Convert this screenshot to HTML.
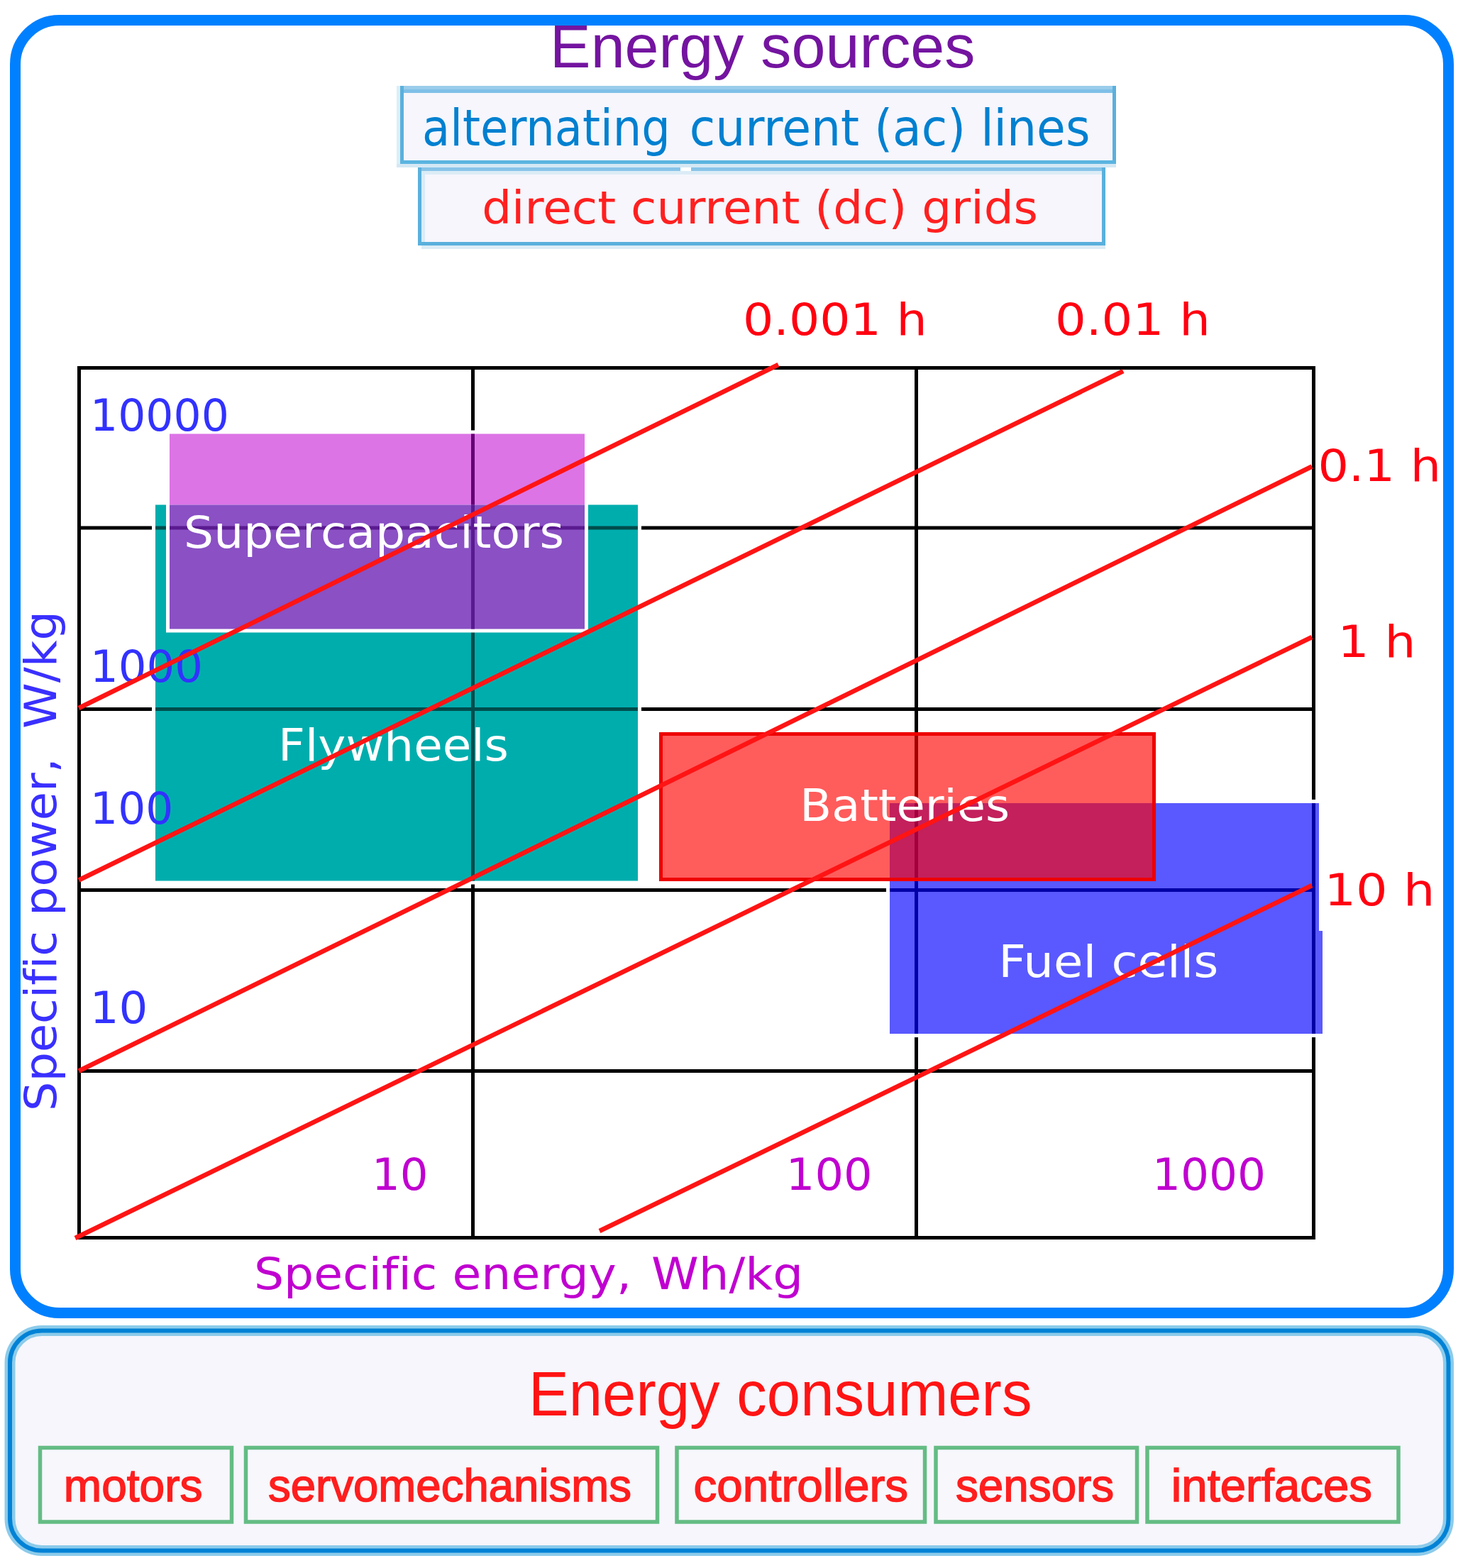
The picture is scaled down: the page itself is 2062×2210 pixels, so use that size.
<!DOCTYPE html>
<html><head><meta charset="utf-8"><title>Energy sources and consumers</title>
<style>
html,body{margin:0;padding:0;background:#fff;}
body{width:2062px;height:2210px;overflow:hidden;}
svg{display:block;}
</style></head><body>
<svg width="2062" height="2210" viewBox="0 0 2062 2210">
<rect x="0" y="0" width="2062" height="2210" fill="#fff"/>
<rect x="21.5" y="28.5" width="2020" height="1822" rx="62" ry="62" fill="#fff" stroke="#0080ff" stroke-width="15"/>
<g shape-rendering="crispEdges">
<rect x="569" y="131" width="999" height="95" fill="#f6f6fc"/>
<rect x="559" y="121" width="5" height="115" fill="#dceef8"/>
<rect x="564" y="121" width="1009" height="5" fill="#9acdeb"/>
<rect x="564" y="126" width="1009" height="5" fill="#7fc0e7"/>
<rect x="564" y="121" width="5" height="110" fill="#5ab0dc"/>
<rect x="1568" y="121" width="5" height="110" fill="#5ab0dc"/>
<rect x="564" y="226" width="1009" height="5" fill="#5ab4e0"/>
<rect x="559" y="231" width="1014" height="5" fill="#d4e8f4"/>
<rect x="594" y="241" width="959" height="100" fill="#f6f6fc"/>
<rect x="589" y="236" width="969" height="5" fill="#88c4e8"/>
<rect x="959" y="236" width="15" height="5" fill="#ffffff"/>
<rect x="594" y="241" width="959" height="5" fill="#dcecf6"/>
<rect x="594" y="241" width="5" height="100" fill="#d8ecf8"/>
<rect x="589" y="236" width="5" height="110" fill="#5ab0dc"/>
<rect x="1553" y="236" width="5" height="110" fill="#5ab0dc"/>
<rect x="589" y="341" width="969" height="5" fill="#5ab0dc"/>
<rect x="594" y="346" width="964" height="5" fill="#dcecf6"/>
</g>
<g stroke="#000" stroke-width="5" fill="none">
<rect x="111.5" y="518.5" width="1740" height="1226"/>
<line x1="666.5" y1="518.5" x2="666.5" y2="1744.5"/>
<line x1="1291.5" y1="518.5" x2="1291.5" y2="1744.5"/>
<line x1="111.5" y1="744" x2="1851.5" y2="744"/>
<line x1="111.5" y1="999.5" x2="1851.5" y2="999.5"/>
<line x1="111.5" y1="1254.5" x2="1851.5" y2="1254.5"/>
<line x1="111.5" y1="1509.5" x2="1851.5" y2="1509.5"/>
</g>
<rect x="214" y="706.5" width="690" height="540" fill="#fff"/>
<rect x="219" y="711.5" width="680" height="530" fill="#00adad"/>
<g stroke="#004c4c" stroke-width="5">
<line x1="219" y1="744" x2="899" y2="744"/>
<line x1="219" y1="999.5" x2="899" y2="999.5"/>
<line x1="666.5" y1="711.5" x2="666.5" y2="1241.5"/>
</g>
<rect x="234" y="606.5" width="595" height="285" fill="#fff"/>
<rect x="239" y="611.5" width="585" height="100" fill="#dc74e6"/>
<rect x="239" y="711.5" width="585" height="175" fill="#8a50c4"/>
<g stroke-width="5">
<line x1="666.5" y1="611.5" x2="666.5" y2="711.5" stroke="#640073"/>
<line x1="666.5" y1="711.5" x2="666.5" y2="886.5" stroke="#5a1a90"/>
<line x1="239" y1="744" x2="824" y2="744" stroke="#5a1a90"/>
</g>
<path d="M1249 1127 H1864 V1462 H1249 Z" fill="#fff"/>
<g stroke="#000" stroke-width="5">
<line x1="1851.5" y1="1132" x2="1851.5" y2="1457"/>
<line x1="1291.5" y1="1132" x2="1291.5" y2="1457"/>
<line x1="1254" y1="1254.5" x2="1854" y2="1254.5"/>
</g>
<path d="M1254 1132 H1859 V1312 H1864 V1457 H1254 Z" fill="rgba(0,0,255,0.65)"/>
<rect x="931.5" y="1034.5" width="695" height="205" fill="rgba(255,0,0,0.64)" stroke="#ee0000" stroke-width="5"/>

<rect x="14" y="1875.5" width="2027.5" height="310" rx="45" ry="45" fill="#f6f6fc" stroke="#8ccbea" stroke-width="15"/>
<rect x="14" y="1875.5" width="2027.5" height="310" rx="45" ry="45" fill="none" stroke="#0082d6" stroke-width="6"/>
<g fill="#f7f7fc" stroke="#64bc84" stroke-width="5.5">
<rect x="56.5" y="2040.5" width="270" height="104.5"/>
<rect x="346.5" y="2040.5" width="580" height="104.5"/>
<rect x="954" y="2040.5" width="349.5" height="104.5"/>
<rect x="1319" y="2040.5" width="283.5" height="104.5"/>
<rect x="1617" y="2040.5" width="354" height="104.5"/>
</g>
<text x="775.1" y="95.2" font-size="85.82" fill="#7414a0" textLength="599.3" lengthAdjust="spacingAndGlyphs" style='font-family:"Liberation Sans","DejaVu Sans",sans-serif;white-space:pre;font-variant-ligatures:none;font-kerning:normal'>Energy sources</text>
<text x="595.1" y="205.0" font-size="70.55" fill="#0080d0" textLength="349.6" lengthAdjust="spacingAndGlyphs" style='font-family:"DejaVu Sans","Liberation Sans",sans-serif;white-space:pre;font-variant-ligatures:none;font-kerning:normal'>alternating</text>
<text x="971.7" y="205.0" font-size="70.55" fill="#0080d0" textLength="564.8" lengthAdjust="spacingAndGlyphs" style='font-family:"DejaVu Sans","Liberation Sans",sans-serif;white-space:pre;font-variant-ligatures:none;font-kerning:normal'>current (ac) lines</text>
<text x="679.2" y="315.4" font-size="63.71" fill="#ff2020" textLength="783.8" lengthAdjust="spacingAndGlyphs" style='font-family:"DejaVu Sans","Liberation Sans",sans-serif;white-space:pre;font-variant-ligatures:none;font-kerning:normal'>direct current (dc) grids</text>
<text x="1046.9" y="471.6" font-size="62.50" fill="#ff0010" textLength="259.9" lengthAdjust="spacingAndGlyphs" style='font-family:"DejaVu Sans","Liberation Sans",sans-serif;white-space:pre;font-variant-ligatures:none;font-kerning:normal'>0.001 h</text>
<text x="1486.9" y="471.6" font-size="62.50" fill="#ff0010" textLength="218.9" lengthAdjust="spacingAndGlyphs" style='font-family:"DejaVu Sans","Liberation Sans",sans-serif;white-space:pre;font-variant-ligatures:none;font-kerning:normal'>0.01 h</text>
<text x="1857.4" y="677.7" font-size="62.50" fill="#ff0010" textLength="173.7" lengthAdjust="spacingAndGlyphs" style='font-family:"DejaVu Sans","Liberation Sans",sans-serif;white-space:pre;font-variant-ligatures:none;font-kerning:normal'>0.1 h</text>
<text x="1885.4" y="925.6" font-size="62.50" fill="#ff0010" textLength="110.1" lengthAdjust="spacingAndGlyphs" style='font-family:"DejaVu Sans","Liberation Sans",sans-serif;white-space:pre;font-variant-ligatures:none;font-kerning:normal'>1 h</text>
<text x="1866.5" y="1275.6" font-size="62.50" fill="#ff0010" textLength="155.9" lengthAdjust="spacingAndGlyphs" style='font-family:"DejaVu Sans","Liberation Sans",sans-serif;white-space:pre;font-variant-ligatures:none;font-kerning:normal'>10 h</text>
<text x="127.1" y="606.5" font-size="62.50" fill="#3232ff" textLength="195.7" lengthAdjust="spacingAndGlyphs" style='font-family:"DejaVu Sans","Liberation Sans",sans-serif;white-space:pre;font-variant-ligatures:none;font-kerning:normal'>10000</text>
<text x="127.0" y="961.0" font-size="62.50" fill="#3232ff" style='font-family:"DejaVu Sans","Liberation Sans",sans-serif;white-space:pre;font-variant-ligatures:none;font-kerning:normal'>1000</text>
<text x="127.1" y="1161.0" font-size="62.50" fill="#3232ff" textLength="117.1" lengthAdjust="spacingAndGlyphs" style='font-family:"DejaVu Sans","Liberation Sans",sans-serif;white-space:pre;font-variant-ligatures:none;font-kerning:normal'>100</text>
<text x="126.7" y="1442.0" font-size="62.50" fill="#3232ff" textLength="81.7" lengthAdjust="spacingAndGlyphs" style='font-family:"DejaVu Sans","Liberation Sans",sans-serif;white-space:pre;font-variant-ligatures:none;font-kerning:normal'>10</text>
<text x="524.0" y="1676.5" font-size="62.50" fill="#c000d0" textLength="79.5" lengthAdjust="spacingAndGlyphs" style='font-family:"DejaVu Sans","Liberation Sans",sans-serif;white-space:pre;font-variant-ligatures:none;font-kerning:normal'>10</text>
<text x="1107.8" y="1676.5" font-size="62.50" fill="#c000d0" textLength="121.9" lengthAdjust="spacingAndGlyphs" style='font-family:"DejaVu Sans","Liberation Sans",sans-serif;white-space:pre;font-variant-ligatures:none;font-kerning:normal'>100</text>
<text x="1624.0" y="1676.5" font-size="62.50" fill="#c000d0" textLength="160.1" lengthAdjust="spacingAndGlyphs" style='font-family:"DejaVu Sans","Liberation Sans",sans-serif;white-space:pre;font-variant-ligatures:none;font-kerning:normal'>1000</text>
<text x="357.9" y="1817.0" font-size="62.50" fill="#c000d0" textLength="532.1" lengthAdjust="spacingAndGlyphs" style='font-family:"DejaVu Sans","Liberation Sans",sans-serif;white-space:pre;font-variant-ligatures:none;font-kerning:normal'>Specific energy,</text>
<text x="917.9" y="1817.0" font-size="62.50" fill="#c000d0" textLength="214.3" lengthAdjust="spacingAndGlyphs" style='font-family:"DejaVu Sans","Liberation Sans",sans-serif;white-space:pre;font-variant-ligatures:none;font-kerning:normal'>Wh/kg</text>
<g transform="rotate(-90 79.3 1566.0)"><text x="79.3" y="1566.0" font-size="62.50" fill="#3a30ff" textLength="705.0" lengthAdjust="spacingAndGlyphs" style='font-family:"DejaVu Sans","Liberation Sans",sans-serif;white-space:pre;font-variant-ligatures:none;font-kerning:normal'>Specific power,  W/kg</text></g>
<text x="259.1" y="771.7" font-size="62.50" fill="#ffffff" textLength="535.9" lengthAdjust="spacingAndGlyphs" style='font-family:"DejaVu Sans","Liberation Sans",sans-serif;white-space:pre;font-variant-ligatures:none;font-kerning:normal'>Supercapacitors</text>
<text x="392.1" y="1071.7" font-size="62.50" fill="#ffffff" textLength="324.9" lengthAdjust="spacingAndGlyphs" style='font-family:"DejaVu Sans","Liberation Sans",sans-serif;white-space:pre;font-variant-ligatures:none;font-kerning:normal'>Flywheels</text>
<text x="1127.3" y="1156.9" font-size="62.50" fill="#ffffff" textLength="295.7" lengthAdjust="spacingAndGlyphs" style='font-family:"DejaVu Sans","Liberation Sans",sans-serif;white-space:pre;font-variant-ligatures:none;font-kerning:normal'>Batteries</text>
<text x="1407.3" y="1377.0" font-size="62.50" fill="#ffffff" textLength="310.1" lengthAdjust="spacingAndGlyphs" style='font-family:"DejaVu Sans","Liberation Sans",sans-serif;white-space:pre;font-variant-ligatures:none;font-kerning:normal'>Fuel cells</text>
<text x="745.0" y="1995.0" font-size="89.00" fill="#ff1414" textLength="709.5" lengthAdjust="spacingAndGlyphs" style='font-family:"Liberation Sans","DejaVu Sans",sans-serif;white-space:pre;font-variant-ligatures:none;font-kerning:normal'>Energy consumers</text>
<text x="89.8" y="2116.0" font-size="64.00" fill="#ff1e1e" textLength="195.8" lengthAdjust="spacingAndGlyphs" stroke="#ff1e1e" stroke-width="1.5" style='font-family:"Liberation Sans","DejaVu Sans",sans-serif;white-space:pre;font-variant-ligatures:none;font-kerning:normal'>motors</text>
<text x="378.0" y="2116.0" font-size="64.00" fill="#ff1e1e" textLength="512.0" lengthAdjust="spacingAndGlyphs" stroke="#ff1e1e" stroke-width="1.5" style='font-family:"Liberation Sans","DejaVu Sans",sans-serif;white-space:pre;font-variant-ligatures:none;font-kerning:normal'>servomechanisms</text>
<text x="977.6" y="2116.0" font-size="64.00" fill="#ff1e1e" textLength="302.4" lengthAdjust="spacingAndGlyphs" stroke="#ff1e1e" stroke-width="1.5" style='font-family:"Liberation Sans","DejaVu Sans",sans-serif;white-space:pre;font-variant-ligatures:none;font-kerning:normal'>controllers</text>
<text x="1347.0" y="2116.0" font-size="64.00" fill="#ff1e1e" textLength="223.2" lengthAdjust="spacingAndGlyphs" stroke="#ff1e1e" stroke-width="1.5" style='font-family:"Liberation Sans","DejaVu Sans",sans-serif;white-space:pre;font-variant-ligatures:none;font-kerning:normal'>sensors</text>
<text x="1650.8" y="2116.0" font-size="64.00" fill="#ff1e1e" textLength="283.2" lengthAdjust="spacingAndGlyphs" stroke="#ff1e1e" stroke-width="1.5" style='font-family:"Liberation Sans","DejaVu Sans",sans-serif;white-space:pre;font-variant-ligatures:none;font-kerning:normal'>interfaces</text>
<g stroke="#ff1414" stroke-width="6.5" stroke-linecap="butt">
<line x1="111" y1="998" x2="1097" y2="514"/>
<line x1="111" y1="1240.5" x2="1583" y2="523"/>
<line x1="111" y1="1509.5" x2="1849" y2="657.5"/>
<line x1="106" y1="1745" x2="1849" y2="898"/>
<line x1="845" y1="1735" x2="1849" y2="1248"/>
</g>

</svg>
</body></html>
